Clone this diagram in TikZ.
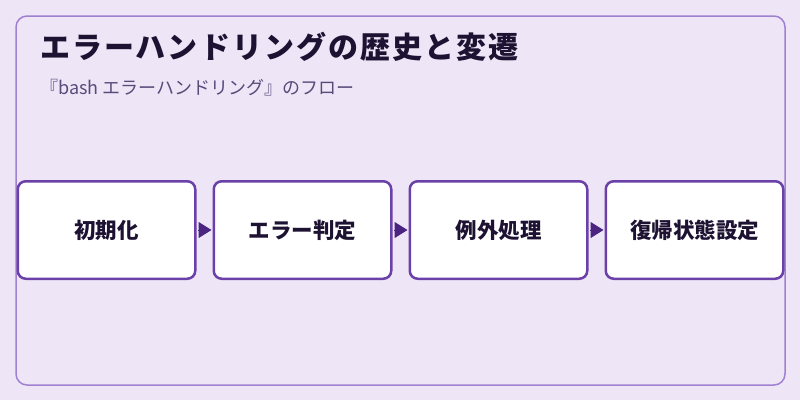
\documentclass[tikz,border=0pt]{standalone}
\usepackage{fontspec}
\usepackage{xcolor}
\usetikzlibrary{positioning,arrows.meta}
\newfontfamily\cjk{Noto Sans CJK JP}
\newfontfamily\cjkwide[LetterSpace=7]{Noto Sans CJK JP}
\definecolor{bgpaper}{HTML}{EEE6F6}
\definecolor{framec}{HTML}{A080D0}
\definecolor{boxline}{HTML}{6B40A8}
\definecolor{arrowc}{HTML}{4A2480}
\definecolor{ink}{HTML}{1E1232}
\definecolor{muted}{HTML}{5A4A7A}
\tikzset{
  frame/.style={draw=framec, fill=bgpaper, line width=1.5pt, rounded corners=11pt},
  stepbox/.style={draw=boxline, fill=white, line width=2.5pt, rounded corners=8pt,
    minimum width=177.5pt, minimum height=97.5pt, inner sep=0pt,
    font=\cjk\bfseries\fontsize{21.5}{25}\selectfont, text=ink},
  flow/.style={draw=arrowc, line width=1pt, -{Triangle[length=13pt,width=16pt]},
    shorten <=1pt, shorten >=1pt},
  heading/.style={anchor=west, inner sep=0pt, text=ink,
    font=\cjkwide\bfseries\fontsize{30}{35}\selectfont},
  note/.style={anchor=west, inner sep=0pt, text=muted,
    font=\cjk\fontsize{18}{21}\selectfont},
}
\begin{document}
\begin{tikzpicture}[x=1pt,y=-1pt]
  \fill[bgpaper] (0,0) rectangle (800,400);
  \useasboundingbox (0,0) rectangle (800,400);
  \draw[frame] (16,16) rectangle (785,385);

  \node[heading] (title) at (40,47) {エラーハンドリングの歴史と変遷};
  \node[note] (sub) at (40,88) {『bash エラーハンドリング』のフロー};

  \node[stepbox] (init) at (106.5,230) {初期化};
  \node[stepbox, right=16pt of init] (judge) {エラー判定};
  \node[stepbox, right=16pt of judge] (except) {例外処理};
  \node[stepbox, right=16pt of except] (restore) {復帰状態設定};

  \draw[flow] (init) -- (judge);
  \draw[flow] (judge) -- (except);
  \draw[flow] (except) -- (restore);
\end{tikzpicture}
\end{document}
